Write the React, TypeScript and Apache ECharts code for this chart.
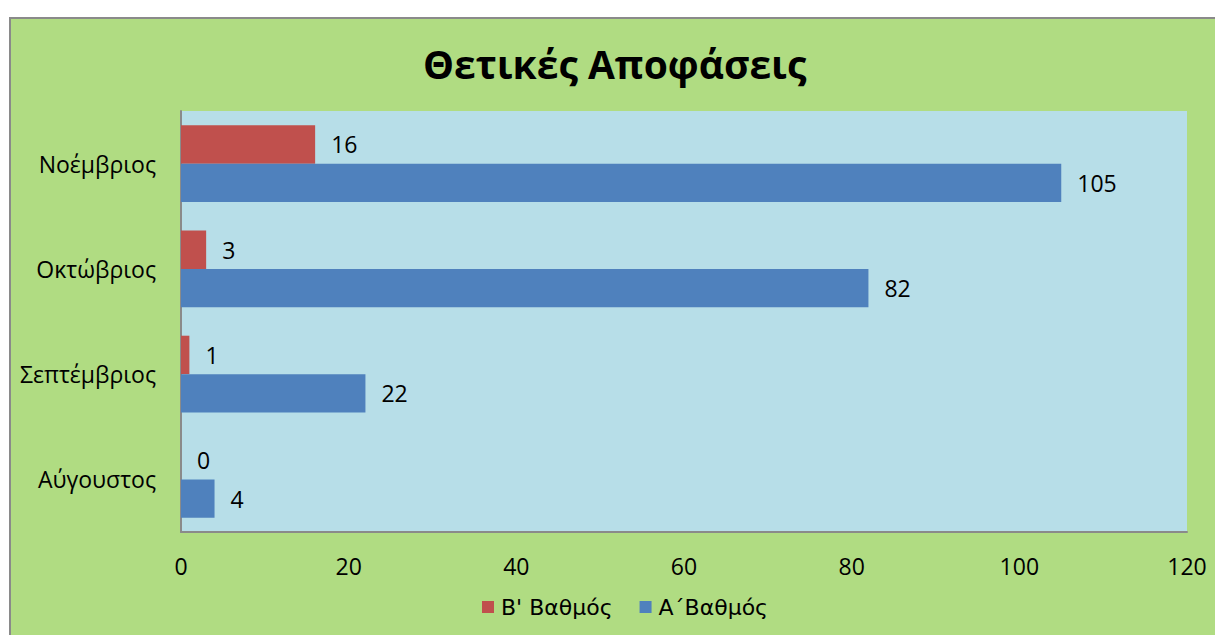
import React, { useEffect, useRef } from "react";
import * as echarts from "echarts";

const months = ["Αύγουστος", "Σεπτέμβριος", "Οκτώβριος", "Νοέμβριος"];
const gradeB = [0, 1, 3, 16];
const gradeA = [4, 22, 82, 105];
const seriesNames = ["Β' Βαθμός", "Α΄Βαθμός"];
const titleText = "Θετικές Αποφάσεις";

const FONT = "'Open Sans', 'Noto Sans', sans-serif";
const LEGEND_FONT = "'DejaVu Sans', 'Open Sans', sans-serif";

export default function App() {
  const ref = useRef<HTMLDivElement>(null);
  useEffect(() => {
    if (!ref.current) return;
    const chart = echarts.init(ref.current, null, { renderer: "svg" });
    const label = {
      show: true,
      position: "right",
      distance: 16,
      color: "#000",
      fontFamily: FONT,
      fontSize: 23,
    };
    chart.setOption({
      animation: false,
      backgroundColor: "#ffffff",
      textStyle: { fontFamily: FONT },
      graphic: [
        {
          type: "rect",
          z: -10,
          silent: true,
          shape: { x: 10, y: 18, width: 1230, height: 640 },
          style: { fill: "#b0dc82", stroke: "#8a8a8a", lineWidth: 2 },
        },
      ],
      title: {
        text: titleText,
        left: 418,
        top: 39,
        textStyle: { fontFamily: FONT, fontWeight: "bold", fontSize: 39, color: "#000" },
      },
      legend: {
        data: seriesNames,
        top: 591,
        left: 477,
        icon: "rect",
        itemWidth: 12,
        itemHeight: 12,
        itemGap: 27,
        textStyle: { fontFamily: LEGEND_FONT, fontSize: 22, color: "#000", padding: [0, 0, 0, 2] },
      },
      grid: {
        left: 181,
        right: 28,
        top: 111,
        bottom: 103,
        show: true,
        backgroundColor: "#b7dee8",
        borderWidth: 0,
      },
      xAxis: {
        type: "value",
        min: 0,
        max: 120,
        interval: 20,
        axisLine: { show: true, lineStyle: { color: "#8a8a8a", width: 2 } },
        axisTick: { show: false },
        splitLine: { show: false },
        axisLabel: { color: "#000", fontSize: 23, fontFamily: FONT, margin: 22 },
      },
      yAxis: {
        type: "category",
        data: months,
        axisLine: { show: true, lineStyle: { color: "#8a8a8a", width: 2 } },
        axisTick: { show: false },
        axisLabel: { color: "#000", fontSize: 23, fontFamily: FONT, margin: 25 },
      },
      series: [
        {
          name: seriesNames[0],
          type: "bar",
          data: gradeB,
          barWidth: "36.5%",
          barGap: "0%",
          barCategoryGap: "27%",
          itemStyle: { color: "#c0504d" },
          label,
        },
        {
          name: seriesNames[1],
          type: "bar",
          data: gradeA,
          barWidth: "36.5%",
          barGap: "0%",
          barCategoryGap: "27%",
          itemStyle: { color: "#4f81bd" },
          label,
        },
      ],
    });
    return () => chart.dispose();
  }, []);
  return (
    <div
      ref={ref}
      style={{ position: "fixed", left: 0, top: 0, width: 1215, height: 635 }}
    />
  );
}
